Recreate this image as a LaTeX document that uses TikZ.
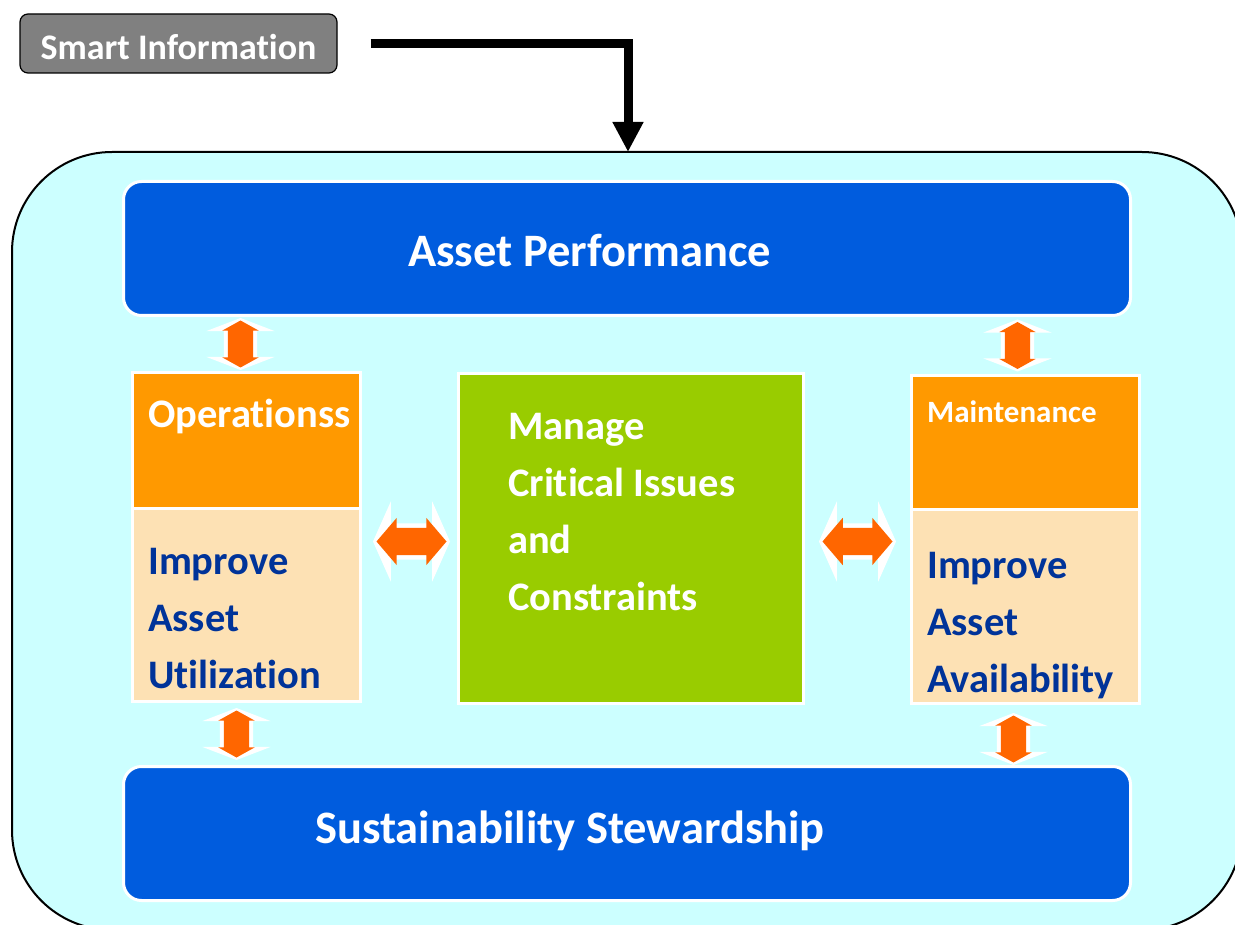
\documentclass[tikz,border=0pt]{standalone}
\usepackage{fontspec}
\setmainfont{Carlito}[Ligatures=NoCommon]
\usetikzlibrary{arrows.meta,positioning,calc,shapes.arrows}
\definecolor{panelcyan}{RGB}{204,255,255}
\definecolor{perfblue}{RGB}{0,92,222}
\definecolor{opsorange}{RGB}{255,153,0}
\definecolor{bodypeach}{RGB}{253,225,180}
\definecolor{critgreen}{RGB}{153,204,0}
\definecolor{textnavy}{RGB}{0,51,153}
\definecolor{linkorange}{RGB}{255,102,0}
\definecolor{infogray}{RGB}{128,128,128}

\begin{document}
\begin{tikzpicture}[x=1pt,y=-1pt,
	box/.style={draw=white,line width=3pt,inner sep=0pt,outer sep=0pt,anchor=north west},
	bluebox/.style={box,fill=perfblue,rounded corners=18pt,minimum width=1007pt,minimum height=134pt},
	headbox/.style={box,fill=opsorange,minimum width=228pt},
	bodybox/.style={box,fill=bodypeach,minimum width=228pt},
	lbl/.style={anchor=base west,inner sep=0pt,text=white,align=left,font=\bfseries\fontsize{40.5}{57}\selectfont},
	biglbl/.style={lbl,font=\bfseries\fontsize{46.5}{54}\selectfont},
	wingv/.style={double arrow,fill=white,rotate=90,inner xsep=0pt,inner ysep=16.5pt,minimum width=0pt,minimum height=52pt,double arrow head extend=17.5pt,double arrow tip angle=138},
	tipv/.style={double arrow,fill=linkorange,rotate=90,inner xsep=0pt,inner ysep=12.5pt,minimum width=0pt,minimum height=47pt,double arrow head extend=5.5pt,double arrow tip angle=122},
	wingh/.style={double arrow,fill=white,inner xsep=0pt,inner ysep=18pt,minimum width=0pt,minimum height=77pt,double arrow head extend=22pt,double arrow tip angle=132},
	tiph/.style={double arrow,fill=linkorange,inner xsep=0pt,inner ysep=13.5pt,minimum width=0pt,minimum height=70pt,double arrow head extend=10pt,double arrow tip angle=99}]
	\useasboundingbox (0,0) rectangle (1235,925);
	% outer panel and source box
	\node[draw=black,line width=2pt,fill=panelcyan,rounded corners=100pt,minimum width=1230pt,minimum height=778pt] (panel) at (627,541) {};
	\node[draw=black,line width=1.2pt,fill=infogray,rounded corners=8pt,minimum width=317pt,minimum height=59pt,inner sep=0pt,text=white,text height=33pt,text depth=0pt,font=\bfseries\fontsize{36}{40}\selectfont] (info) at (178.5,43.5) {Smart Information};
	\coordinate (drop) at (628,152);
	\draw[line width=9pt,-{Triangle[length=30pt,width=29pt]}] ([xshift=33pt]info.east) -| (drop);
	% boxes
	\node[bluebox] (perf) at (123.5,181.5) {};
	\node[bluebox] (stew) at (123.5,766.5) {};
	\node[headbox,minimum height=136pt] (opsA) at (132.5,372.5) {};
	\node[bodybox,minimum height=193pt,below=0pt of opsA] (opsB) {};
	\node[box,fill=critgreen,minimum width=345pt,minimum height=330pt] (crit) at (458.5,373.5) {};
	\node[headbox,minimum height=134pt] (mntA) at (911.5,375.5) {};
	\node[bodybox,minimum height=194pt,below=0pt of mntA] (mntB) {};
	% labels
	\node[biglbl] (perfT) at (408,267) {Asset Performance};
	\node[biglbl] (stewT) at (315,843) {Sustainability Stewardship};
	\node[lbl] (opsT) at (148,428) {Operationss};
	\node[lbl,text=textnavy] (opsG) at (148,688) {Improve\\Asset\\Utilization};
	\node[lbl] (critT) at (508,610) {Manage\\Critical Issues\\and\\Constraints};
	\node[lbl,font=\bfseries\fontsize{31}{36}\selectfont] (mntT) at (927,422) {Maintenance};
	\node[lbl,text=textnavy] (mntG) at (927,692) {Improve\\Asset\\Availability};
	% two-way links
	\node[wingv] (l1) at ($(opsA.north)!.5!(opsA.north|-perf.south)+(-6,0)$) {};
	\node[tipv] at (l1) {};
	\node[wingv] (l2) at ($(mntA.north)!.5!(mntA.north|-perf.south)+(-8,0)$) {};
	\node[tipv] at (l2) {};
	\node[wingv] (l3) at ($(opsB.south)!.5!(opsB.south|-stew.north)+(-10,0)$) {};
	\node[tipv] at (l3) {};
	\node[wingv] (l4) at ($(mntB.south)!.5!(mntB.south|-stew.north)+(-12,4)$) {};
	\node[tipv] at (l4) {};
	\node[wingh] (l5) at ($(opsA.east|-crit.center)!.5!(crit.west)+(2,3)$) {};
	\node[tiph] at (l5) {};
	\node[wingh] (l6) at ($(crit.east)!.5!(mntA.west|-crit.center)+(0,3)$) {};
	\node[tiph] at (l6) {};
\end{tikzpicture}
\end{document}
